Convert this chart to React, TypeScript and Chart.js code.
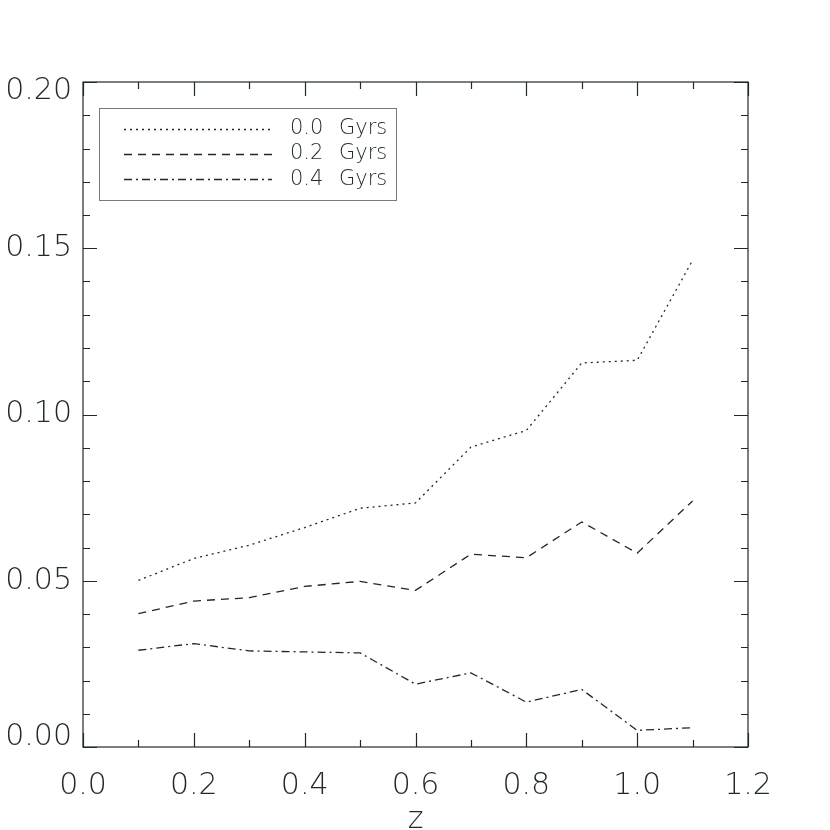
import React, { useEffect, useRef } from 'react';
import { Chart, registerables } from 'chart.js';

Chart.register(...registerables);

// ---- data ----
const Z_VALUES = [0.1, 0.2, 0.3, 0.4, 0.5, 0.6, 0.7, 0.8, 0.9, 1.0, 1.1];
const SERIES_LABELS = ['0.0 Gyrs', '0.2 Gyrs', '0.4 Gyrs'];
const GYRS_00 = [0.0501, 0.0567, 0.0607, 0.066, 0.0718, 0.0734, 0.0902, 0.0952, 0.1155, 0.1163, 0.1464];
const GYRS_02 = [0.0401, 0.0439, 0.0449, 0.0483, 0.0498, 0.0471, 0.058, 0.0569, 0.0677, 0.0583, 0.074];
const GYRS_04 = [0.0291, 0.0311, 0.0289, 0.0286, 0.0283, 0.0189, 0.0223, 0.0135, 0.0173, 0.005, 0.0058];
const X_TICK_LABELS = ['0.0', '0.2', '0.4', '0.6', '0.8', '1.0', '1.2'];
const Y_TICK_LABELS = ['0.00', '0.05', '0.10', '0.15', '0.20'];
const X_AXIS_TITLE = 'z';
const X_MIN = 0, X_MAX = 1.2, X_MAJOR = 0.2, X_MINOR = 0.1;
const Y_MIN = 0, Y_MAX = 0.2, Y_MAJOR = 0.05, Y_MINOR = 0.01;

const INK = '#1e2a25';
const FONT = "'DejaVu Sans', sans-serif";

const DASHES: number[][] = [
  [2, 4],
  [8, 6],
  [8, 4, 2, 4],
];

const frameTicksPlugin = {
  id: 'frameTicks',
  afterDatasetsDraw(chart: any) {
    const { ctx, chartArea: a, scales } = chart;
    const xs = scales.x, ys = scales.y;
    ctx.save();
    ctx.strokeStyle = INK;
    ctx.lineWidth = 1.2;
    ctx.setLineDash([]);
    ctx.strokeRect(a.left, a.top, a.right - a.left, a.bottom - a.top);
    const nx = Math.round((X_MAX - X_MIN) / X_MINOR);
    for (let i = 0; i <= nx; i++) {
      const v = X_MIN + i * X_MINOR;
      const px = Math.round(xs.getPixelForValue(v)) + 0.5;
      const major = Math.abs(v / X_MAJOR - Math.round(v / X_MAJOR)) < 1e-6;
      const len = major ? 14 : 7;
      ctx.beginPath();
      ctx.moveTo(px, a.bottom); ctx.lineTo(px, a.bottom - len);
      ctx.moveTo(px, a.top); ctx.lineTo(px, a.top + len);
      ctx.stroke();
    }
    const ny = Math.round((Y_MAX - Y_MIN) / Y_MINOR);
    for (let i = 0; i <= ny; i++) {
      const v = Y_MIN + i * Y_MINOR;
      const py = Math.round(ys.getPixelForValue(v)) + 0.5;
      const major = Math.abs(v / Y_MAJOR - Math.round(v / Y_MAJOR)) < 1e-6;
      const len = major ? 14 : 7;
      ctx.beginPath();
      ctx.moveTo(a.left, py); ctx.lineTo(a.left + len, py);
      ctx.moveTo(a.right, py); ctx.lineTo(a.right - len, py);
      ctx.stroke();
    }
    ctx.restore();
  },
};

const boxLegendPlugin = {
  id: 'boxLegend',
  afterDraw(chart: any) {
    const { ctx, chartArea: a } = chart;
    const x0 = a.left + 16, y0 = a.top + 26, w = 297, h = 92;
    ctx.save();
    ctx.strokeStyle = '#7a7a7a';
    ctx.lineWidth = 1;
    ctx.setLineDash([]);
    ctx.strokeRect(x0 + 0.5, y0 + 0.5, w, h);
    chart.data.datasets.forEach((ds: any, i: number) => {
      const cy = y0 + 20.5 + i * 25.3;
      ctx.strokeStyle = INK;
      ctx.lineWidth = 1.3;
      ctx.setLineDash(ds.borderDash || []);
      ctx.beginPath();
      ctx.moveTo(x0 + 25, Math.round(cy) + 0.5);
      ctx.lineTo(x0 + 173, Math.round(cy) + 0.5);
      ctx.stroke();
      ctx.setLineDash([]);
      ctx.fillStyle = INK;
      ctx.font = `200 21px ${FONT}`;
      ctx.textAlign = 'left';
      ctx.textBaseline = 'middle';
      const parts = String(ds.label).split(' ');
      ctx.fillText(parts[0], x0 + 191, cy);
      ctx.fillText(parts.slice(1).join(' '), x0 + 240, cy);
    });
    ctx.restore();
  },
};

export default function App() {
  const ref = useRef<HTMLCanvasElement | null>(null);
  useEffect(() => {
    if (!ref.current) return;
    const series = [GYRS_00, GYRS_02, GYRS_04];
    const chart = new Chart(ref.current, {
      type: 'line',
      data: {
        datasets: series.map((vals, i) => ({
          label: SERIES_LABELS[i],
          data: Z_VALUES.map((z, j) => ({ x: z, y: vals[j] })),
          borderColor: INK,
          borderWidth: 1.3,
          borderDash: DASHES[i],
          borderCapStyle: 'butt',
          pointRadius: 0,
          tension: 0,
          fill: false,
        })),
      },
      options: {
        animation: false,
        responsive: false,
        devicePixelRatio: 1,
        layout: { padding: { top: 82, right: 82, left: 0, bottom: 0 } },
        plugins: { legend: { display: false }, tooltip: { enabled: false }, title: { display: false } },
        scales: {
          x: {
            type: 'linear',
            min: X_MIN,
            max: X_MAX,
            grid: { display: false, drawTicks: false },
            border: { display: false },
            ticks: {
              stepSize: X_MAJOR,
              padding: 21,
              color: INK,
              font: { family: FONT, size: 30, weight: '200' },
              maxRotation: 0,
              autoSkip: false,
              callback: (_v: any, i: number) => X_TICK_LABELS[i],
            },
            title: {
              display: true,
              text: X_AXIS_TITLE,
              color: INK,
              font: { family: FONT, size: 30, weight: '200', lineHeight: 1 },
              padding: { top: 0, bottom: -5 },
            },
            afterFit: (s: any) => { s.height = 83; },
          },
          y: {
            type: 'linear',
            min: Y_MIN,
            max: Y_MAX,
            grid: { display: false, drawTicks: false },
            border: { display: false },
            ticks: {
              stepSize: Y_MAJOR,
              padding: 11,
              color: INK,
              font: { family: FONT, size: 30, weight: '200', lineHeight: '19px' },
              autoSkip: false,
              callback: (_v: any, i: number) => {
                const t = Y_TICK_LABELS[i];
                if (i === 0) return [t, ''];
                if (i === Y_TICK_LABELS.length - 1) return ['', t];
                return t;
              },
            },
            afterFit: (s: any) => { s.width = 83; },
          },
        },
      },
      plugins: [frameTicksPlugin, boxLegendPlugin],
    } as any);
    return () => chart.destroy();
  }, []);
  return (
    <div style={{ position: 'absolute', left: 0, top: 0, width: 830, height: 830, background: '#fff' }}>
      <canvas ref={ref} width={830} height={830} style={{ display: 'block' }} />
    </div>
  );
}
